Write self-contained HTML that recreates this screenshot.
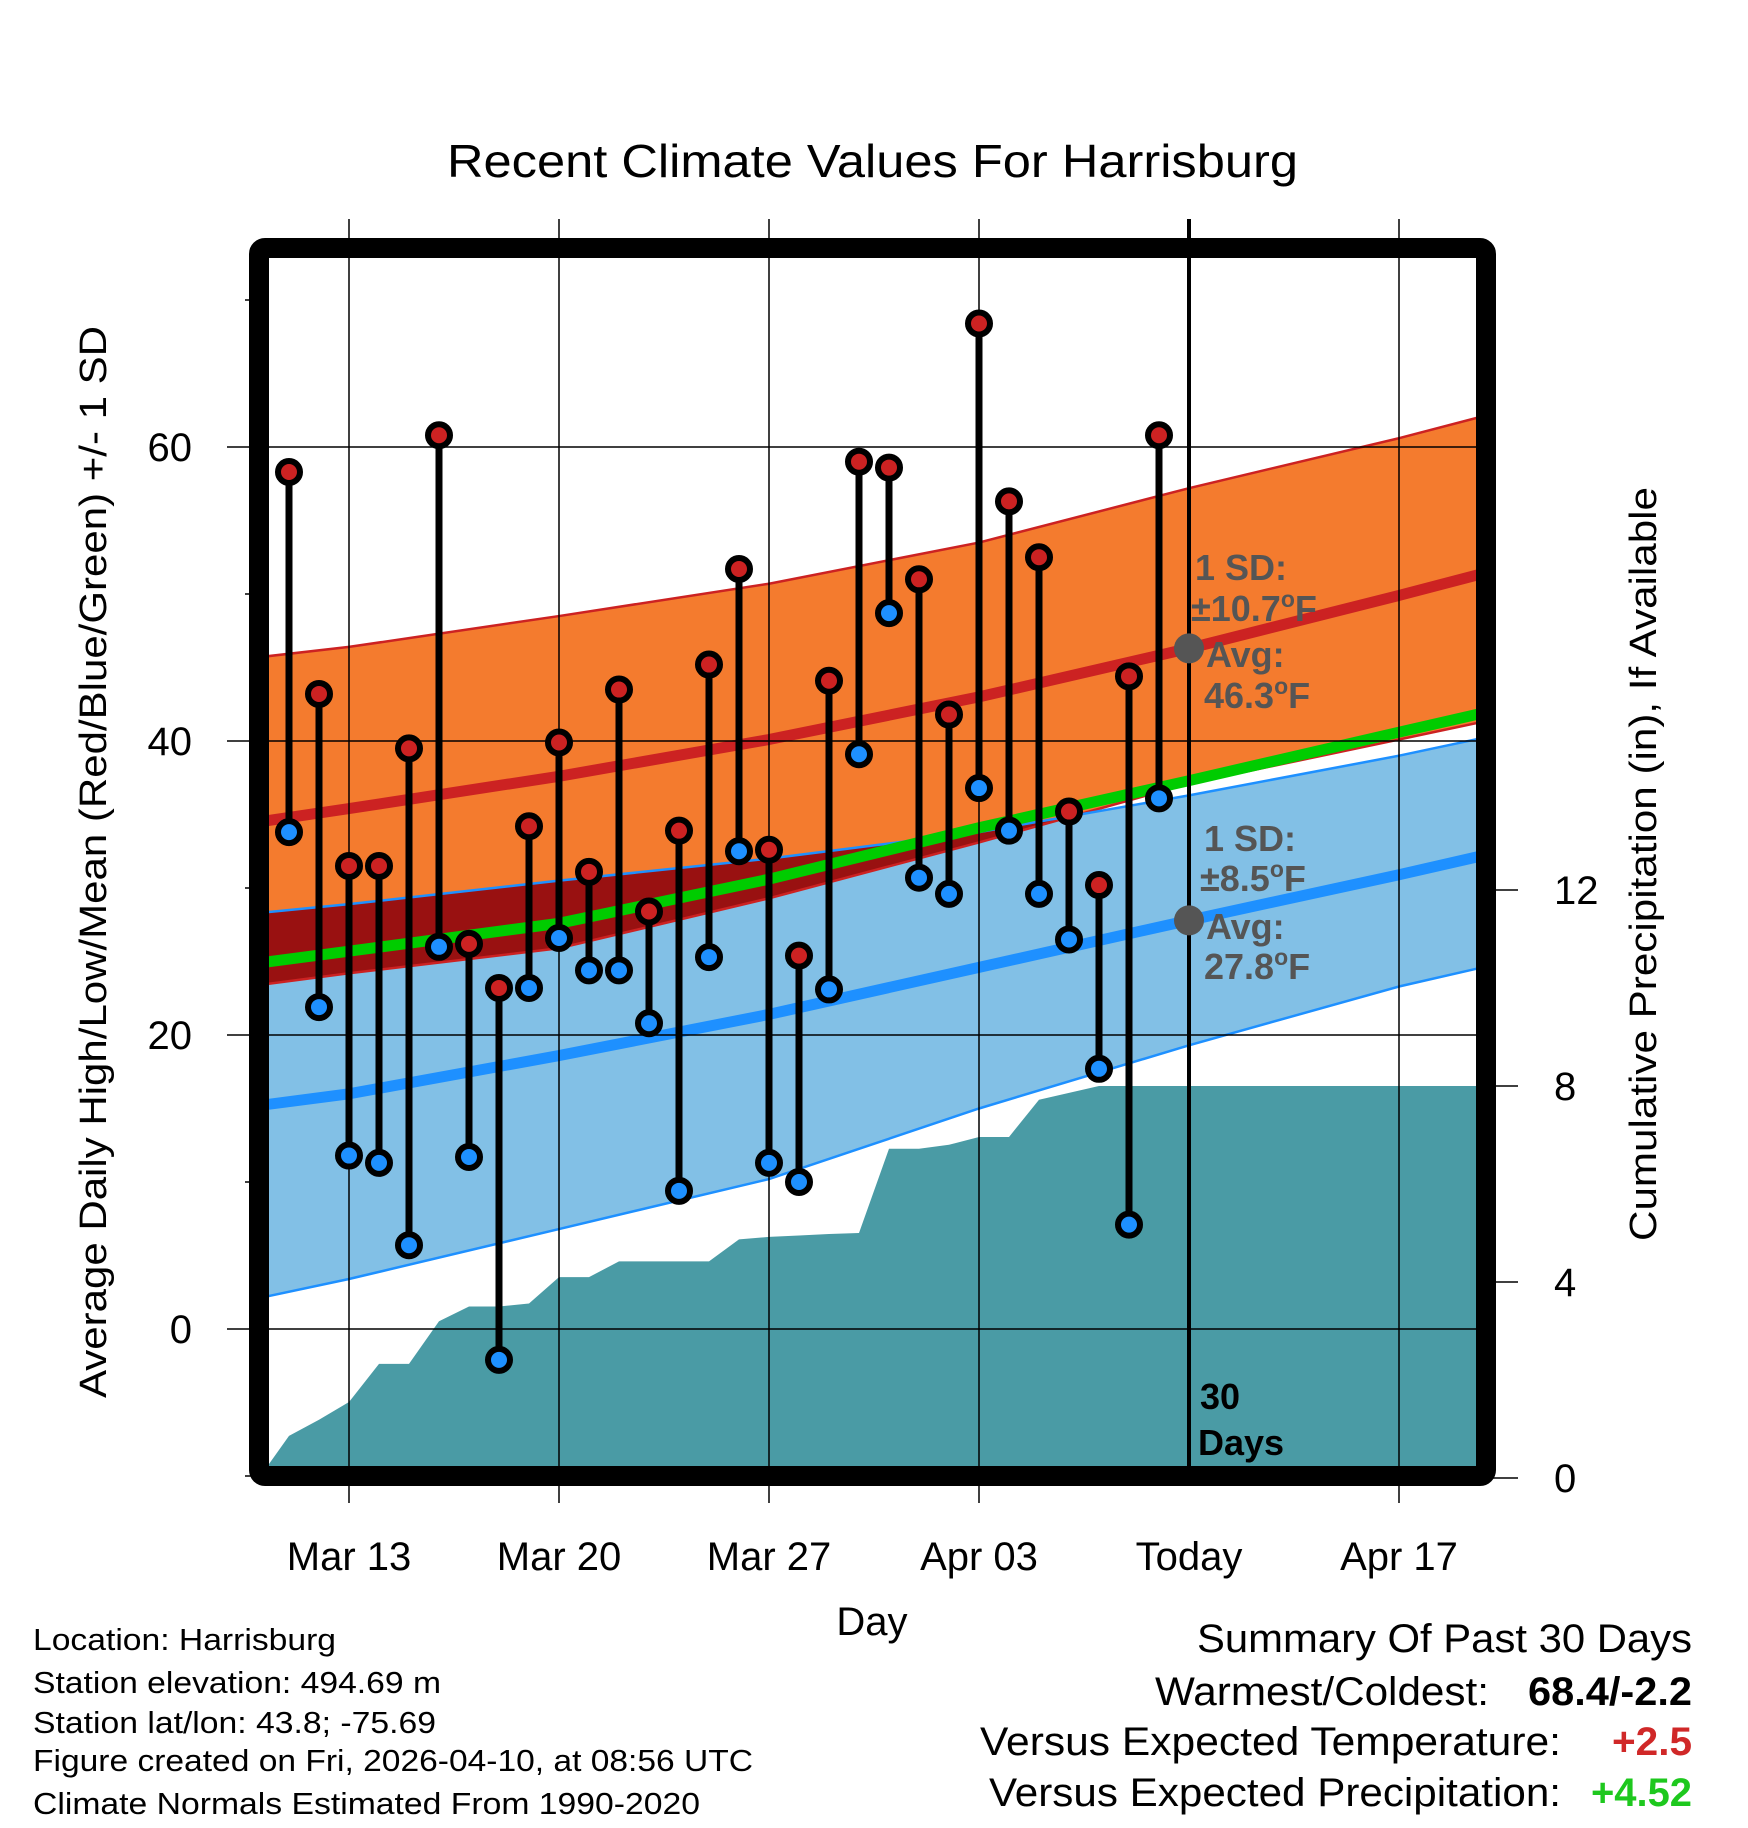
<!DOCTYPE html>
<html><head><meta charset="utf-8"><style>
html,body{margin:0;padding:0;background:#fff;}
svg{display:block;font-family:"Liberation Sans",sans-serif;}
</style></head><body>
<svg id="chart" width="1748" height="1828" viewBox="0 0 1748 1828" xmlns="http://www.w3.org/2000/svg">
<defs>
<clipPath id="plotClip"><rect x="269" y="258" width="1208" height="1209"/></clipPath>
</defs>
<g id="plot" clip-path="url(#plotClip)"></g>
<g id="overlay"></g>
</svg>
<script>
const dayIdx = [1,2,3,4,5,6,7,8,9,10,11,12,13,14,15,16,17,18,19,20,21,22,23,24,25,26,27,28,29,30];
const highs = [58.3,43.2,31.5,31.5,39.5,60.8,26.2,23.2,34.2,39.9,31.1,43.5,28.4,33.9,45.2,51.7,32.6,25.4,44.1,59.0,58.6,51.0,41.8,68.4,56.3,52.5,35.2,30.2,44.4,60.8];
const lows = [33.8,21.9,11.8,11.3,5.7,26.0,11.7,-2.1,23.2,26.6,24.4,24.4,20.8,9.4,25.3,32.5,11.3,10.0,23.1,39.1,48.7,30.7,29.6,36.8,33.9,29.6,26.5,17.7,7.1,36.1];
const normIdx = [0,3,10,17,24,31,38,41];
const normHigh = [34.5,35.4,37.6,40.1,43.0,46.3,49.9,51.5];
const normHighUpper = [45.7,46.4,48.5,50.7,53.5,57.2,60.6,62.2];
const normHighLower = [23.4,24.2,25.9,29.3,33.1,37.1,40.1,41.4];
const normLow = [15.2,16.0,18.6,21.4,24.6,27.8,30.9,32.3];
const normLowUpper = [28.3,28.9,30.5,32.0,33.8,36.3,39.0,40.3];
const normLowLower = [2.1,3.4,6.8,10.2,15.0,19.3,23.3,24.7];
const normMean = [24.9,25.7,27.6,30.6,34.1,37.3,40.6,42.0];
const precipIdx = [0,1,2,3,4,5,6,7,8,9,10,11,12,13,14,15,16,17,18,19,20,21,22,23,24,25,26,27,28,29,30,41];
const precip = [0,0.86,1.19,1.55,2.33,2.33,3.2,3.5,3.5,3.56,4.1,4.1,4.42,4.42,4.42,4.42,4.87,4.92,4.95,4.98,5.0,6.72,6.72,6.8,6.96,6.96,7.72,7.86,8.0,8.0,8.0,8.0];
const xTickIdx = [3,10,17,24,31,38];
const xTickLabels = ["Mar 13","Mar 20","Mar 27","Apr 03","Today","Apr 17"];
const yTicks = [0,20,40,60];
const yMinor = [-10,10,30,50,70];
const pTicks = [0,4,8,12];

const NS="http://www.w3.org/2000/svg";
const X = i => 259 + i*30;
const Y = t => 1329 - t*14.7;
const P = p => 1478 - p*49;
const plot=document.getElementById('plot'), ov=document.getElementById('overlay');
function mk(tag, attrs, parent){const e=document.createElementNS(NS,tag);for(const k in attrs)e.setAttribute(k,attrs[k]);parent.appendChild(e);return e;}
function pts(idx, vals, f){return idx.map((d,i)=>X(d)+','+f(vals[i])).join(' ');}

const hiUp=normHighUpper, hiLo=normHighLower, loUp=normLowUpper, loLo=normLowLower;
const bandPts=(up,lo)=>pts(normIdx,up,Y)+' '+pts(normIdx.slice().reverse(),lo.slice().reverse(),Y);

let e;
e=mk('polygon',{points:bandPts(hiUp,hiLo),fill:'#f47b2e'},plot);

e=mk('polygon',{points:bandPts(loUp,loLo),fill:'#82c0e6'},plot);

const cp=mk('clipPath',{id:'hiClip'},document.querySelector('defs'));
mk('polygon',{points:bandPts(hiUp,hiLo)},cp);
e=mk('polygon',{points:bandPts(loUp,loLo),fill:'#991111','clip-path':'url(#hiClip)'},plot);

[[hiUp,'#cc2222'],[hiLo,'#cc2222'],[loUp,'#1e90ff'],[loLo,'#1e90ff']].forEach(([a,c])=>{
  e=mk('polyline',{points:pts(normIdx,a,Y),fill:'none',stroke:c,'stroke-width':2.5},plot);
  
});
e=mk('polygon',{points:pts(precipIdx,precip,P)+' '+X(41)+','+P(0)+' '+X(0)+','+P(0),fill:'#4a9ba5'},plot);

[[normHigh,'#cc2222','normal-high-line'],[normLow,'#1e90ff','normal-low-line'],[normMean,'#00cc00','normal-mean-line']].forEach(([a,c,n])=>{
  e=mk('polyline',{points:pts(normIdx,a,Y),fill:'none',stroke:c,'stroke-width':11},plot);
  
});
xTickIdx.forEach((d,i)=>{
  if(i===4) return;
  e=mk('line',{x1:X(d),x2:X(d),y1:219,y2:1503,stroke:'#000','stroke-width':1.5},ov);
  
});
yTicks.forEach(t=>{
  e=mk('line',{x1:227,x2:1486,y1:Y(t),y2:Y(t),stroke:'#000','stroke-width':1.5},ov);
  
  e=mk('text',{x:192,y:Y(t)+14,'text-anchor':'end','font-size':40},ov);e.textContent=t;
  
});
yMinor.forEach(t=>{
  e=mk('line',{x1:245,x2:259,y1:Y(t),y2:Y(t),stroke:'#000','stroke-width':1.5},ov);
  
});
pTicks.forEach(p=>{
  e=mk('line',{x1:1486,x2:1518,y1:P(p),y2:P(p),stroke:'#000','stroke-width':1.5},ov);
  
  e=mk('text',{x:1554,y:P(p)+14,'font-size':40},ov);e.textContent=p;
  
});
xTickIdx.forEach((d,i)=>{
  e=mk('text',{x:X(d),y:1570,'text-anchor':'middle','font-size':40},ov);e.textContent=xTickLabels[i];
  
});
e=mk('line',{x1:X(31),x2:X(31),y1:219,y2:1476,stroke:'#000','stroke-width':4},ov);

dayIdx.forEach((d,i)=>{
  e=mk('line',{x1:X(d),x2:X(d),y1:Y(highs[i]),y2:Y(lows[i]),stroke:'#000','stroke-width':7},ov);
  
});
dayIdx.forEach((d,i)=>{
  e=mk('circle',{cx:X(d),cy:Y(highs[i]),r:11,fill:'#cc2222',stroke:'#000','stroke-width':6},ov);
  
  e=mk('circle',{cx:X(d),cy:Y(lows[i]),r:11,fill:'#1e90ff',stroke:'#000','stroke-width':6},ov);
  
});
[normHigh[5],normLow[5]].forEach(v=>{
  e=mk('circle',{cx:X(31),cy:Y(v),r:15,fill:'#555'},ov);
  
});
</script>
<svg style="position:absolute;left:0;top:0" width="1748" height="1828" xmlns="http://www.w3.org/2000/svg" font-family="Liberation Sans, sans-serif">
<rect x="259" y="248" width="1227" height="1228" rx="6" fill="none" stroke="#000" stroke-width="20"/>
<g font-weight="bold" font-size="36" fill="#555">
<text x="1195" y="580">1 SD:</text>
<text x="1191" y="621">±10.7<tspan font-size="23" dy="-14">o</tspan><tspan dy="14">F</tspan></text>
<text x="1206" y="667">Avg:</text>
<text x="1204" y="708">46.3<tspan font-size="23" dy="-14">o</tspan><tspan dy="14">F</tspan></text>
<text x="1204" y="851">1 SD:</text>
<text x="1200" y="891">±8.5<tspan font-size="23" dy="-14">o</tspan><tspan dy="14">F</tspan></text>
<text x="1206" y="939">Avg:</text>
<text x="1204" y="979">27.8<tspan font-size="23" dy="-14">o</tspan><tspan dy="14">F</tspan></text>
</g>
<text font-weight="bold" font-size="36" x="1200" y="1409">30</text>
<text font-weight="bold" font-size="36" x="1198" y="1455">Days</text>
<text x="447" y="177" font-size="46" textLength="851" lengthAdjust="spacingAndGlyphs">Recent Climate Values For Harrisburg</text>
<text x="872" y="1635" font-size="40" text-anchor="middle">Day</text>
<text transform="translate(106,862) rotate(-90)" font-size="38" text-anchor="middle" textLength="1072" lengthAdjust="spacingAndGlyphs">Average Daily High/Low/Mean (Red/Blue/Green) +/- 1 SD</text>
<text transform="translate(1656,864) rotate(-90)" font-size="38" text-anchor="middle" textLength="754" lengthAdjust="spacingAndGlyphs">Cumulative Precipitation (in), If Available</text>
<g font-size="31">
<text x="33" y="1650" textLength="303" lengthAdjust="spacingAndGlyphs">Location: Harrisburg</text>
<text x="33" y="1693" textLength="408" lengthAdjust="spacingAndGlyphs">Station elevation: 494.69 m</text>
<text x="33" y="1733" textLength="403" lengthAdjust="spacingAndGlyphs">Station lat/lon: 43.8; -75.69</text>
<text x="33" y="1771" textLength="720" lengthAdjust="spacingAndGlyphs">Figure created on Fri, 2026-04-10, at 08:56 UTC</text>
<text x="33" y="1814" textLength="667" lengthAdjust="spacingAndGlyphs">Climate Normals Estimated From 1990-2020</text>
</g>
<g font-size="40">
<text x="1197" y="1652" textLength="495" lengthAdjust="spacingAndGlyphs">Summary Of Past 30 Days</text>
<text x="1155" y="1705" textLength="334" lengthAdjust="spacingAndGlyphs">Warmest/Coldest:</text>
<text x="1528" y="1705" font-weight="bold" textLength="164" lengthAdjust="spacingAndGlyphs">68.4/-2.2</text>
<text x="980" y="1755" textLength="581" lengthAdjust="spacingAndGlyphs">Versus Expected Temperature:</text>
<text x="1612" y="1755" font-weight="bold" fill="#d02828" textLength="80" lengthAdjust="spacingAndGlyphs">+2.5</text>
<text x="989" y="1806" textLength="572" lengthAdjust="spacingAndGlyphs">Versus Expected Precipitation:</text>
<text x="1591" y="1806" font-weight="bold" fill="#1ec81e" textLength="101" lengthAdjust="spacingAndGlyphs">+4.52</text>
</g>
</svg>
</body></html>
